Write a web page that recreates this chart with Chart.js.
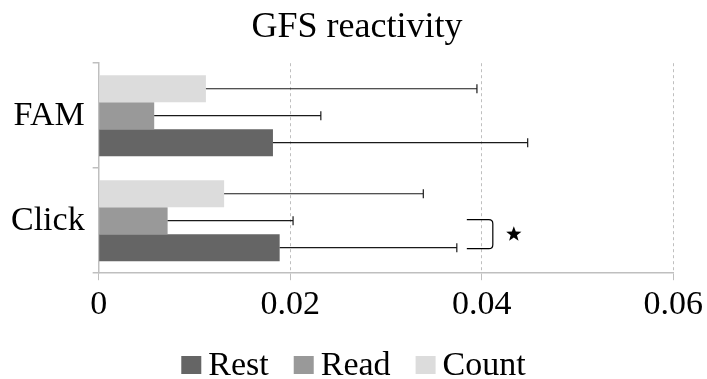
<!DOCTYPE html>
<html>
<head>
<meta charset="utf-8">
<script src="https://cdn.jsdelivr.net/npm/chart.js@4"></script>
<style>
  html, body { margin: 0; padding: 0; background: #fff; }
  #wrap { width: 707px; height: 379px; }
</style>
</head>
<body>
<div id="wrap"><canvas id="chart"></canvas></div>
<script>
// Categories (top to bottom)
const groups = ["FAM", "Click"];

// Series means
const restValues = [0.0182, 0.0189];
const readValues = [0.0058, 0.0072];
const countValues = [0.0112, 0.0131];

// Upper error (added to mean)
const restErrors = [0.0266, 0.0185];
const readErrors = [0.0174, 0.0131];
const countErrors = [0.0283, 0.0208];

// x-axis ticks
const xMin = 0;
const xMax = 0.06;
const xStep = 0.02;

// significance marker: group, series pair
const sigGroup = "Click";
const sigPair = ["Read", "Rest"];

const SERIF = "'Liberation Serif', 'Times New Roman', serif";

// draws the one-sided error bars + bracket with star
const errorBarPlugin = {
    id: "errorBars",
    afterDatasetsDraw(chart) {
        const ctx = chart.ctx;
        const xScale = chart.scales.x;
        ctx.save();
        ctx.strokeStyle = "#1a1a1a";
        ctx.lineWidth = 1.2;
        chart.data.datasets.forEach((ds, di) => {
            const meta = chart.getDatasetMeta(di);
            meta.data.forEach((bar, i) => {
                const end = xScale.getPixelForValue(ds.data[i] + ds.errors[i]);
                ctx.beginPath();
                ctx.moveTo(bar.x, bar.y);
                ctx.lineTo(end, bar.y);
                ctx.moveTo(end, bar.y - 4.5);
                ctx.lineTo(end, bar.y + 4.5);
                ctx.stroke();
            });
        });

        // bracket
        const gi = groups.indexOf(sigGroup);
        const ends = [];
        const ys = [];
        sigPair.forEach((name) => {
            const di = chart.data.datasets.findIndex((d) => d.label === name);
            const ds = chart.data.datasets[di];
            const bar = chart.getDatasetMeta(di).data[gi];
            ends.push(xScale.getPixelForValue(ds.data[gi] + ds.errors[gi]));
            ys.push(bar.y);
        });
        const x0 = Math.max(...ends) + 10;
        const x1 = x0 + 26;
        const yA = Math.min(...ys) - 1;
        const yB = Math.max(...ys) + 1;
        ctx.strokeStyle = "#000";
        ctx.lineWidth = 1.2;
        ctx.beginPath();
        ctx.moveTo(x0, yA);
        ctx.lineTo(x1 - 4, yA);
        ctx.quadraticCurveTo(x1, yA, x1, yA + 4);
        ctx.lineTo(x1, yB - 4);
        ctx.quadraticCurveTo(x1, yB, x1 - 4, yB);
        ctx.lineTo(x0, yB);
        ctx.stroke();

        // star
        const cx = x1 + 21;
        const cy = (yA + yB) / 2;
        const R = 8, r = 3.3;
        ctx.fillStyle = "#000";
        ctx.beginPath();
        for (let k = 0; k < 10; k++) {
            const rad = k % 2 === 0 ? R : r;
            const a = -Math.PI / 2 + (k * Math.PI) / 5;
            const px = cx + rad * Math.cos(a);
            const py = cy + rad * Math.sin(a);
            if (k === 0) ctx.moveTo(px, py);
            else ctx.lineTo(px, py);
        }
        ctx.closePath();
        ctx.fill();
        ctx.restore();
    },
};

// compact legend (box, small gap, label), Rest / Read / Count
const tightLegend = {
    id: "tightLegend",
    afterDraw(chart) {
        const ctx = chart.ctx;
        const items = chart.data.datasets.slice().reverse();
        const boxW = 20, boxH = 18, gap = 7, spacing = 25;
        const cy = 365;
        ctx.save();
        ctx.font = "34px " + SERIF;
        ctx.textBaseline = "middle";
        const widths = items.map((d) => ctx.measureText(d.label).width);
        let total = 0;
        widths.forEach((w, i) => { total += boxW + gap + w + (i < widths.length - 1 ? spacing : 0); });
        let x = (chart.width - total) / 2;
        items.forEach((d, i) => {
            ctx.fillStyle = d.backgroundColor;
            ctx.fillRect(x, cy - boxH / 2, boxW, boxH);
            ctx.fillStyle = "#000";
            ctx.fillText(d.label, x + boxW + gap, cy + 1);
            x += boxW + gap + widths[i] + spacing;
        });
        ctx.restore();
    },
};

new Chart(document.getElementById("chart"), {
    type: "bar",
    data: {
        labels: groups,
        // listed top-down inside a group; legend reads Rest, Read, Count
        datasets: [
            { label: "Count", data: countValues, errors: countErrors, backgroundColor: "#dcdcdc" },
            { label: "Read", data: readValues, errors: readErrors, backgroundColor: "#999999" },
            { label: "Rest", data: restValues, errors: restErrors, backgroundColor: "#656565" },
        ],
    },
    options: {
        indexAxis: "y",
        responsive: true,
        maintainAspectRatio: false,
        animation: false,
        layout: { padding: { left: 3, right: -4, top: 0, bottom: 50 } },
        datasets: {
            bar: { categoryPercentage: 0.77, barPercentage: 1.0, borderWidth: 0 },
        },
        scales: {
            x: {
                min: xMin,
                max: xMax,
                ticks: {
                    stepSize: xStep,
                    color: "#000",
                    font: { family: SERIF, size: 34 },
                    padding: 4,
                    maxRotation: 0,
                },
                grid: {
                    color: "#bfbfbf",
                    lineWidth: 1,
                    tickLength: 7,
                },
                border: { color: "#bfbfbf", width: 1.5, dash: [3, 3] },
            },
            y: {
                ticks: {
                    color: "#000",
                    font: { family: SERIF, size: 34 },
                    padding: 8,
                },
                grid: {
                    offset: true,
                    drawOnChartArea: false,
                    color: "#bfbfbf",
                    lineWidth: 1.5,
                    tickLength: 6,
                },
                border: { color: "#bfbfbf", width: 1.5 },
            },
        },
        plugins: {
            title: {
                display: true,
                text: "GFS reactivity",
                color: "#000",
                font: { family: SERIF, size: 36, weight: "normal" },
                padding: { top: 6, bottom: 14 },
            },
            legend: { display: false },
            tooltip: { enabled: false },
        },
    },
    plugins: [errorBarPlugin, tightLegend],
});
</script>
</body>
</html>
